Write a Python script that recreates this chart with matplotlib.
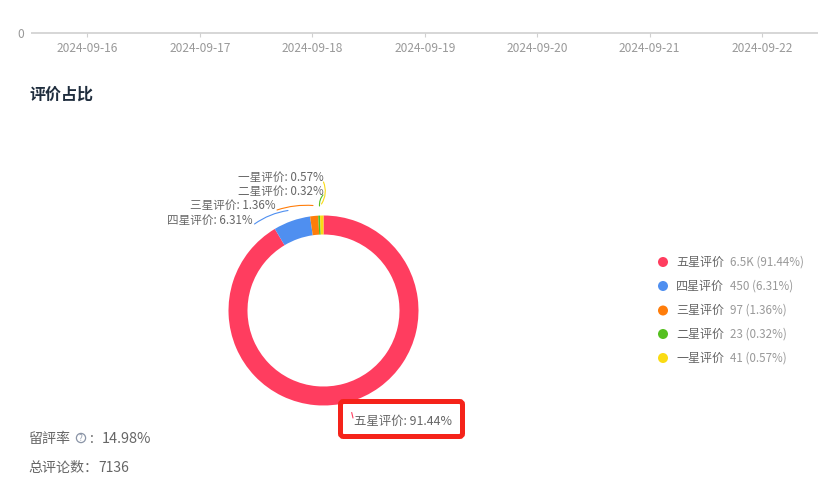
import matplotlib
matplotlib.use('Agg')
import matplotlib.pyplot as plt
from matplotlib.patches import Circle, FancyBboxPatch

plt.rcParams['font.family'] = ['Noto Sans CJK SC', 'DejaVu Sans']

W, H = 836, 498

# data
dates = ['2024-09-16', '2024-09-17', '2024-09-18', '2024-09-19',
         '2024-09-20', '2024-09-21', '2024-09-22']
names = ['五星评价', '四星评价', '三星评价', '二星评价', '一星评价']
counts = [6525, 450, 97, 23, 41]
count_labels = ['6.5K', '450', '97', '23', '41']
percents = ['91.44%', '6.31%', '1.36%', '0.32%', '0.57%']
colors = ['#ff3d5f', '#4f8ff0', '#ff7d0a', '#55c020', '#fadb14']
rate = '14.98%'
total = '7136'


def px(size):
    return size * 72 / 100


def axes_at(x0, y0, x1, y1):
    # pixel box from the top left corner of the figure
    return fig.add_axes([x0 / W, 1 - y1 / H, (x1 - x0) / W, (y1 - y0) / H])


fig = plt.figure(figsize=(W / 100, H / 100), dpi=100, facecolor='white')

# bottom of the line chart above
ax_top = axes_at(31.25, 10, 818.25, 33.5)
ax_top.set_xlim(-0.5, 6.5)
ax_top.set_ylim(0, 1)
ax_top.patch.set_alpha(0)
for s in ['top', 'left', 'right']:
    ax_top.spines[s].set_visible(False)
ax_top.spines['bottom'].set_color('#d0d0d0')
ax_top.spines['bottom'].set_linewidth(1.2)
ax_top.spines['bottom'].set_capstyle('butt')
ax_top.set_xticks(range(len(dates)))
ax_top.set_xticklabels(dates, fontsize=px(12), color='#999999')
ax_top.tick_params(axis='x', length=3, width=0.8, color='#d0d0d0', pad=3)
ax_top.set_yticks([0])
ax_top.set_yticklabels(['0'], fontsize=px(12), color='#999999')
ax_top.tick_params(axis='y', length=0, pad=5)

# donut
ax_pie = axes_at(228.5, 215.5, 418.5, 405.5)
ax_pie.pie(counts, colors=colors, startangle=90, counterclock=False, radius=1,
           wedgeprops={'width': 0.2, 'linewidth': 0})
ax_pie.set_xlim(-1, 1)
ax_pie.set_ylim(-1, 1)

# overlay in pixel coordinates for the texts and annotations
ov = axes_at(0, 0, W, H)
ov.set_xlim(0, W)
ov.set_ylim(H, 0)
ov.axis('off')
ov.patch.set_alpha(0)

ov.text(29, 95, '评价占比', fontsize=px(16), fontweight='bold', color='#1f2d3d',
        va='center', ha='left')

# slice labels with their leaders
label_pos = [(353.5, 421.5, 12.4), (167, 220, 11.6), (190.5, 205.5, 11.6),
             (238, 191.5, 11.6), (238, 177.5, 11.6)]
for i in range(5):
    x, y, s = label_pos[i]
    ov.text(x, y, names[i] + ': ' + percents[i], fontsize=px(s), color='#666666',
            va='center', ha='left')

leaders = [((351.7, 412.5), (353, 418), 0.0),
           ((288, 210.5), (254.5, 224), 0.12),
           ((313, 205.5), (277, 210), 0.1),
           ((319.5, 206), (323, 195), -0.2),
           ((321.5, 204), (323.5, 182), 0.25)]
for i in range(5):
    a, b, rad = leaders[i]
    ov.annotate('', xy=b, xytext=a,
                arrowprops=dict(arrowstyle='-', color=colors[i], lw=0.8,
                                shrinkA=0, shrinkB=0,
                                connectionstyle='arc3,rad=%s' % rad))

# red highlight box
ov.add_patch(FancyBboxPatch((340.5, 401.5), 122, 35,
                            boxstyle='round,pad=0,rounding_size=3',
                            fc='none', ec='#f5231a', lw=3.6))

# legend
legend_y = [262, 286, 310.5, 334, 358]
for i in range(5):
    ov.add_patch(Circle((663, legend_y[i]), 5, fc=colors[i], ec='none'))
    ov.text(676, legend_y[i], names[i], fontsize=px(12), color='#666666',
            va='center', ha='left')
    ov.text(730, legend_y[i], '%s (%s)' % (count_labels[i], percents[i]),
            fontsize=px(11.6), color='#999999', va='center', ha='left')

# stats at the bottom
ov.text(28.5, 438.5, '留評率', fontsize=px(14), color='#666666', va='center', ha='left')
ov.add_patch(Circle((81, 438), 4.6, fc='none', ec='#8a94a6', lw=0.9))
ov.text(81, 438, '?', fontsize=px(8), color='#8a94a6', va='center', ha='center')
ov.text(90, 438.5, ':', fontsize=px(14), color='#666666', va='center', ha='left')
ov.text(102, 438.5, rate, fontsize=px(14.5), color='#666666', va='center', ha='left')
ov.text(28.5, 467.5, '总评论数：', fontsize=px(14), color='#666666', va='center', ha='left')
ov.text(98, 467.5, total, fontsize=px(14), color='#666666', va='center', ha='left')

fig.savefig('out.png', dpi=100)
